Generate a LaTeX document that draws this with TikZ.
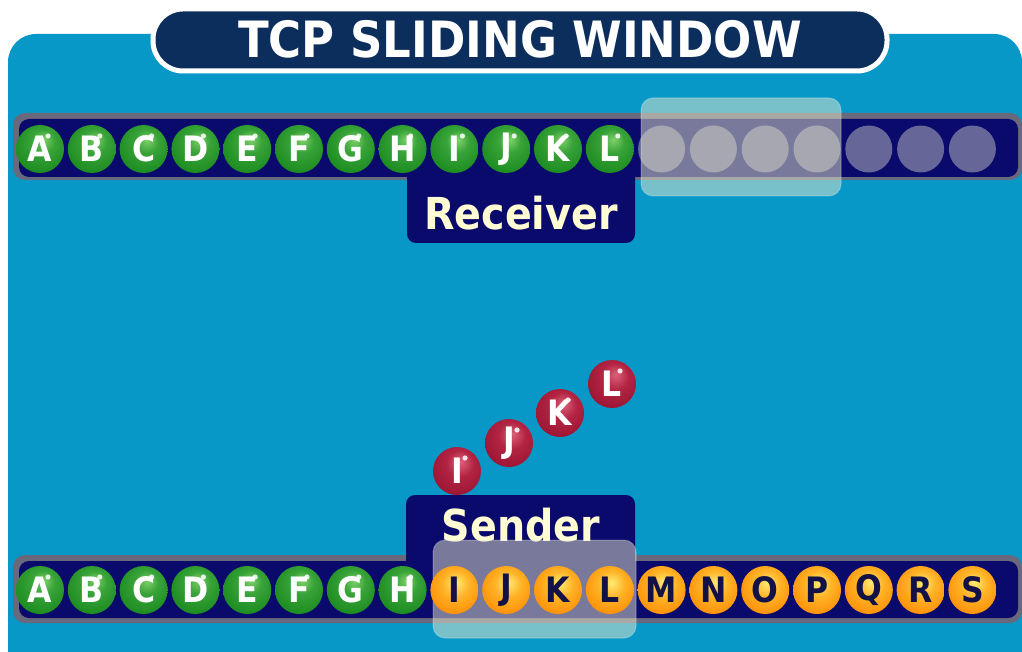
\documentclass[tikz,border=0pt]{standalone}
\usepackage{fontspec}
\newfontfamily\dvb[FakeStretch=0.9]{DejaVu Sans}
\definecolor{panelblue}{RGB}{8,152,200}
\definecolor{titlenavy}{RGB}{12,46,92}
\definecolor{barnavy}{RGB}{10,10,108}
\definecolor{barshadow}{RGB}{105,105,125}
\definecolor{slotgray}{RGB}{102,102,152}
\definecolor{cream}{RGB}{255,252,212}
\definecolor{letternavy}{RGB}{18,18,72}
\definecolor{windowtint}{RGB}{232,232,205}
\pgfdeclareradialshading{greenball}{\pgfpoint{4bp}{10bp}}{rgb(0bp)=(0.50,0.82,0.42); rgb(12bp)=(0.22,0.64,0.22); rgb(32bp)=(0.10,0.54,0.12); rgb(46bp)=(0.05,0.44,0.07); rgb(62bp)=(0.02,0.34,0.04)}
\pgfdeclareradialshading{orangeball}{\pgfpoint{2bp}{8bp}}{rgb(0bp)=(1,0.92,0.45); rgb(14bp)=(1,0.70,0.15); rgb(34bp)=(1,0.53,0); rgb(48bp)=(0.94,0.42,0); rgb(62bp)=(0.82,0.32,0)}
\pgfdeclareradialshading{redball}{\pgfpoint{4bp}{10bp}}{rgb(0bp)=(0.86,0.38,0.48); rgb(14bp)=(0.70,0.14,0.26); rgb(38bp)=(0.58,0.06,0.18); rgb(62bp)=(0.40,0,0.10)}
\tikzset{
  ballbase/.style={circle, minimum size=48pt, inner sep=0pt,
    font=\dvb\bfseries\fontsize{35}{35}\selectfont},
  shine/.style={path picture={\fill[white,opacity=.85]
    ([shift={(8pt,13pt)}]path picture bounding box.center) circle (2.6pt);}},
  greenball/.style={ballbase, shade, shading=greenball, text=white, shine},
  orangeball/.style={ballbase, shade, shading=orangeball, text=letternavy},
  redball/.style={ballbase, shade, shading=redball, text=white, shine},
  slot/.style={circle, minimum size=47pt, inner sep=0pt, fill=slotgray},
  tablabel/.style={text=cream, font=\dvb\bfseries\fontsize{44}{44}\selectfont},
  windowbox/.style={fill=windowtint, fill opacity=.5, draw=white, draw opacity=.25,
    line width=1pt, rounded corners=12pt},
}
\begin{document}
\begin{tikzpicture}[x=1pt,y=-1pt]
\useasboundingbox (0,0) rectangle (1022,652);
\fill[white] (0,0) rectangle (1022,652);
% blue panel
\fill[panelblue, rounded corners=28pt] (8,34) rectangle (1022,700);
% title pill
\draw[white, line width=5pt, fill=titlenavy, rounded corners=30pt] (153,9) rectangle (887,71);
\node[text=white, font=\dvb\bfseries\fontsize{50}{50}\selectfont] (title) at (520,39) {TCP SLIDING WINDOW};

% ---------- receiver ----------
\fill[barshadow, rounded corners=12pt] (13,113) rectangle (1022,180);
\fill[barnavy, rounded corners=10pt] (19,119) rectangle (1018,177);
\fill[barnavy, rounded corners=9pt] (407,165) rectangle (635,243);
\node[tablabel] (receiver) at (521,213) {Receiver};
\foreach \l [count=\i from 0] in {A,B,C,D,E,F,G,H,I,J,K,L}
  \node[greenball] (r\l) at ({40+51.8*\i},149) {\l};
\foreach \i in {12,...,18}
  \node[slot] (slot\i) at ({40+51.8*\i},149) {};
\fill[windowbox] (641,98) rectangle (841,196);

% ---------- sender ----------
\fill[barshadow, rounded corners=12pt] (13,555) rectangle (1022,623);
\fill[barnavy, rounded corners=10pt] (19,561) rectangle (1018,618);
\fill[barnavy, rounded corners=9pt] (406,495) rectangle (635,570);
\node[tablabel] (sender) at (521,525) {Sender};
\fill[windowbox] (433,540) rectangle (636,638);
\foreach \l [count=\i from 0] in {A,B,C,D,E,F,G,H}
  \node[greenball] (s\l) at ({40+51.8*\i},590) {\l};
\foreach \l [count=\i from 8] in {I,J,K,L,M,N,O,P,Q,R,S}
  \node[orangeball] (s\l) at ({40+51.8*\i},590) {\l};

% ---------- segments in flight ----------
\node[redball] (fI) at (457,471) {I};
\node[redball] (fJ) at (509,443) {J};
\node[redball] (fK) at (560,413) {K};
\node[redball] (fL) at (612,384) {L};
\end{tikzpicture}
\end{document}
